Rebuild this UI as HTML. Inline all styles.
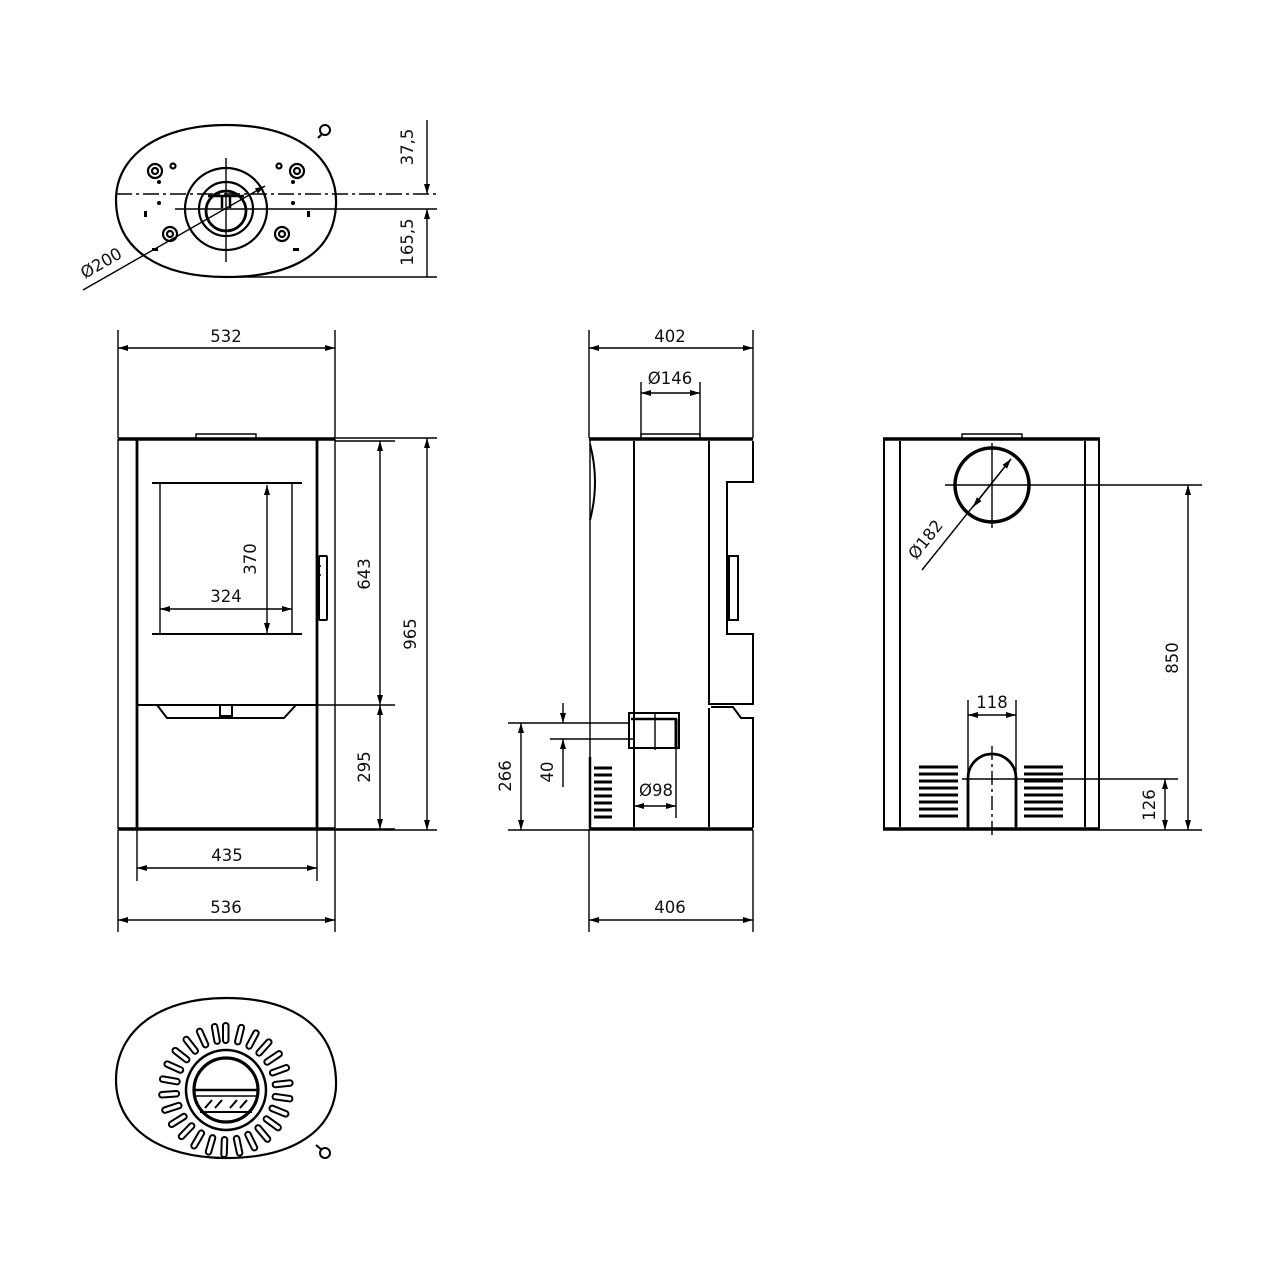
<!DOCTYPE html>
<html><head><meta charset="utf-8"><style>
html,body{margin:0;padding:0;background:#fff}
svg{display:block}
text{font-family:"DejaVu Sans","Liberation Sans",sans-serif;font-size:16.5px;fill:#111}
</style></head><body>
<svg width="1280" height="1280" viewBox="0 0 1280 1280" xmlns="http://www.w3.org/2000/svg">
<defs>
<marker id="a" viewBox="0 0 10 6" refX="10" refY="3" markerWidth="10" markerHeight="6" markerUnits="userSpaceOnUse" orient="auto-start-reverse"><path d="M0,0 L10,3 L0,6z" fill="#000"/></marker>
</defs>
<g stroke="#000" fill="none" stroke-width="1.4">

<!-- TOP VIEW -->
<path d="M226,125 C300,125 338,160 336,205 C334,255 290,277 226,277 C160,277 116,250 116,200 C116,155 160,125 226,125Z" stroke-width="2.2"/>
<path d="M318,138 L322,134" stroke-width="2"/><circle cx="325" cy="130" r="5" stroke-width="2"/>
<circle cx="226" cy="209" r="41" stroke-width="2.2"/>
<circle cx="226" cy="209" r="27" stroke-width="2.2"/>
<circle cx="226" cy="211" r="20" stroke-width="2.8"/>
<path d="M208,196 L244,196 M222,196 L222,208 M230,196 L230,208" stroke-width="2.5"/>
<g stroke-width="2.2"><circle cx="155" cy="171" r="7"/><circle cx="155" cy="171" r="3"/>
<circle cx="297" cy="171" r="7"/><circle cx="297" cy="171" r="3"/>
<circle cx="170" cy="234" r="7"/><circle cx="170" cy="234" r="3"/>
<circle cx="282" cy="234" r="7"/><circle cx="282" cy="234" r="3"/>
<circle cx="173" cy="166" r="2.5"/><circle cx="279" cy="166" r="2.5"/></g>
<g fill="#000" stroke="none"><circle cx="159" cy="182" r="2"/><circle cx="159" cy="203" r="2"/><circle cx="293" cy="182" r="2"/><circle cx="293" cy="203" r="2"/>
<rect x="144" y="211" width="3" height="6"/><rect x="307" y="211" width="3" height="6"/>
<rect x="152" y="248" width="6" height="3"/><rect x="293" y="248" width="6" height="3"/></g>
<path d="M116,194 L437,194" stroke-dasharray="16,4,3,4"/>
<path d="M175,209 L437,209"/>
<path d="M230,277 L437,277"/>
<path d="M226,158 L226,262"/>
<path d="M427,120 L427,194" marker-end="url(#a)"/>
<path d="M427,277 L427,209" marker-end="url(#a)"/>
<path d="M83,290 L265,186" marker-end="url(#a)"/>

<!-- FRONT VIEW -->
<path d="M118,439 L335,439 M118,829 L335,829" stroke-width="3.5"/>
<path d="M118,439 L118,829 M335,439 L335,829"/>
<path d="M137,439 L137,829 M317,439 L317,829" stroke-width="2.8"/>
<path d="M196,439 L196,434 L256,434 L256,439"/>
<path d="M152,483 L302,483 M152,634 L302,634" stroke-width="2"/>
<path d="M160,483 L160,634 M292,483 L292,634"/>
<rect x="319" y="556" width="8" height="64" rx="1" stroke-width="2"/>
<path d="M317,566 L321,566 M317,575 L321,575"/>
<path d="M137,705 L317,705" stroke-width="2"/>
<path d="M157,705 L167,718 L284,718 L296,705" stroke-width="2"/>
<rect x="220" y="705" width="12" height="11" stroke-width="2"/>
<path d="M267,485 L267,633" marker-start="url(#a)" marker-end="url(#a)"/>
<path d="M160,609 L292,609" marker-start="url(#a)" marker-end="url(#a)"/>
<path d="M335,441 L395,441 M317,705 L395,705 M335,829 L395,829 M335,438 L437,438 M335,830 L437,830"/>
<path d="M380,441 L380,705" marker-start="url(#a)" marker-end="url(#a)"/>
<path d="M380,705 L380,829" marker-start="url(#a)" marker-end="url(#a)"/>
<path d="M427,438 L427,830" marker-start="url(#a)" marker-end="url(#a)"/>
<path d="M118,330 L118,438 M335,330 L335,438"/>
<path d="M118,348 L335,348" marker-start="url(#a)" marker-end="url(#a)"/>
<path d="M137,830 L137,881 M317,830 L317,881 M118,830 L118,932 M335,830 L335,932"/>
<path d="M137,868 L317,868" marker-start="url(#a)" marker-end="url(#a)"/>
<path d="M118,920 L335,920" marker-start="url(#a)" marker-end="url(#a)"/>

<!-- SIDE VIEW -->
<path d="M589,439 L753,439 M589,829 L753,829" stroke-width="3.5"/>
<path d="M590,439 L590,829"/>
<path d="M634,441 L634,827 M709,441 L709,705 M709,708 L709,827" stroke-width="2"/>
<path d="M753,441 L753,482 L727,482 L727,634 L753,634 L753,704 L709,704" stroke-width="2"/>
<path d="M711,707 L733,707 L741,718 L753,718 L753,828" stroke-width="2"/>
<path d="M590,444 Q600,482 590,520" stroke-width="2"/>
<rect x="729" y="556" width="9" height="64" stroke-width="2"/>
<rect x="629" y="713" width="50" height="35" stroke-width="2"/>
<path d="M631,719 L677,719" stroke-width="2.5"/><path d="M676,719 L676,747" stroke-width="3"/>
<path d="M641,439 L641,434 L700,434 L700,439"/>
<path d="M589,330 L589,438 M753,330 L753,438 M641,382 L641,436 M700,382 L700,436"/>
<path d="M589,348 L753,348" marker-start="url(#a)" marker-end="url(#a)"/>
<path d="M641,393 L700,393" marker-start="url(#a)" marker-end="url(#a)"/>
<g stroke-width="3"><path d="M594,768 L612,768 M594,775 L612,775 M594,782 L612,782 M594,789 L612,789 M594,796 L612,796 M594,803 L612,803 M594,810 L612,810 M594,817 L612,817"/></g>
<path d="M590,757 L590,828" stroke-width="2.5"/>
<path d="M508,723 L629,723 M550,739 L634,739 M508,830 L589,830"/>
<path d="M521,723 L521,830" marker-start="url(#a)" marker-end="url(#a)"/>
<path d="M563,703 L563,723" marker-end="url(#a)"/>
<path d="M563,787 L563,739" marker-end="url(#a)"/>
<path d="M655,713 L655,750 M676,739 L676,818"/>
<path d="M634,806 L676,806" marker-start="url(#a)" marker-end="url(#a)"/>
<path d="M589,830 L589,932 M753,830 L753,932"/>
<path d="M589,920 L753,920" marker-start="url(#a)" marker-end="url(#a)"/>

<!-- BACK VIEW -->
<path d="M883,439 L1100,439 M883,829 L1100,829" stroke-width="3.5"/>
<path d="M884,439 L884,829 M1099,439 L1099,829 M900,441 L900,827 M1085,441 L1085,827" stroke-width="2"/>
<path d="M962,439 L962,434 L1022,434 L1022,439"/>
<circle cx="992" cy="485" r="37" stroke-width="3.5"/>
<path d="M992,443 L992,528 M945,485 L1202,485"/>
<path d="M922,570 L1011,459" marker-end="url(#a)"/>
<path d="M1011,459 L973,507" marker-end="url(#a)"/>
<path d="M1188,485 L1188,830" marker-start="url(#a)" marker-end="url(#a)"/>
<path d="M1100,830 L1202,830"/>
<path d="M962,779 L1178,779"/>
<path d="M1165,779 L1165,830" marker-start="url(#a)" marker-end="url(#a)"/>
<path d="M968,828 L968,778 A24,24 0 0 1 1016,778 L1016,828" stroke-width="2.8"/>
<path d="M992,746 L992,835" stroke-dasharray="14,4,3,4"/>
<path d="M968,700 L968,776 M1016,700 L1016,776"/>
<path d="M968,715 L1016,715" marker-start="url(#a)" marker-end="url(#a)"/>
<g stroke-width="3"><path d="M919,767 L958,767 M919,774 L958,774 M919,781 L958,781 M919,788 L958,788 M919,795 L958,795 M919,802 L958,802 M919,809 L958,809 M919,816 L958,816 M1024,767 L1063,767 M1024,774 L1063,774 M1024,781 L1063,781 M1024,788 L1063,788 M1024,795 L1063,795 M1024,802 L1063,802 M1024,809 L1063,809 M1024,816 L1063,816"/></g>

<!-- BOTTOM VIEW -->
<path d="M226,1158 C300,1158 338,1125 336,1080 C334,1025 290,998 226,998 C160,998 116,1030 116,1080 C116,1128 160,1158 226,1158Z" stroke-width="2.2"/>
<path d="M316,1145 L322,1150" stroke-width="2"/><circle cx="325" cy="1153" r="5" stroke-width="2"/>
<circle cx="226" cy="1090" r="40" stroke-width="2.5"/>
<circle cx="226" cy="1090" r="32" stroke-width="3.2"/>
<path d="M194,1090 L258,1090" stroke-width="2.5"/><path d="M196,1096 L256,1096"/>
<path d="M200,1112 L252,1112" stroke-width="2"/>
<path d="M205,1108 L212,1100 M215,1108 L222,1100 M230,1108 L237,1100 M240,1108 L247,1100" stroke-width="2"/>
<g stroke-width="2">
<rect x="223" y="1023" width="5.5" height="20" rx="2.7" transform="rotate(0 226 1090)"/>
<rect x="223" y="1023" width="5.5" height="20" rx="2.7" transform="rotate(14 226 1090)"/>
<rect x="223" y="1023" width="5.5" height="20" rx="2.7" transform="rotate(28 226 1090)"/>
<rect x="223" y="1023" width="5.5" height="20" rx="2.7" transform="rotate(42 226 1090)"/>
<rect x="223" y="1023" width="5.5" height="20" rx="2.7" transform="rotate(56 226 1090)"/>
<rect x="223" y="1023" width="5.5" height="20" rx="2.7" transform="rotate(70 226 1090)"/>
<rect x="223" y="1023" width="5.5" height="20" rx="2.7" transform="rotate(84 226 1090)"/>
<rect x="223" y="1023" width="5.5" height="20" rx="2.7" transform="rotate(98 226 1090)"/>
<rect x="223" y="1023" width="5.5" height="20" rx="2.7" transform="rotate(112 226 1090)"/>
<rect x="223" y="1023" width="5.5" height="20" rx="2.7" transform="rotate(126 226 1090)"/>
<rect x="223" y="1023" width="5.5" height="20" rx="2.7" transform="rotate(140 226 1090)"/>
<rect x="223" y="1023" width="5.5" height="20" rx="2.7" transform="rotate(154 226 1090)"/>
<rect x="223" y="1023" width="5.5" height="20" rx="2.7" transform="rotate(168 226 1090)"/>
<rect x="223" y="1023" width="5.5" height="20" rx="2.7" transform="rotate(182 226 1090)"/>
<rect x="223" y="1023" width="5.5" height="20" rx="2.7" transform="rotate(196 226 1090)"/>
<rect x="223" y="1023" width="5.5" height="20" rx="2.7" transform="rotate(210 226 1090)"/>
<rect x="223" y="1023" width="5.5" height="20" rx="2.7" transform="rotate(224 226 1090)"/>
<rect x="223" y="1023" width="5.5" height="20" rx="2.7" transform="rotate(238 226 1090)"/>
<rect x="223" y="1023" width="5.5" height="20" rx="2.7" transform="rotate(252 226 1090)"/>
<rect x="223" y="1023" width="5.5" height="20" rx="2.7" transform="rotate(266 226 1090)"/>
<rect x="223" y="1023" width="5.5" height="20" rx="2.7" transform="rotate(280 226 1090)"/>
<rect x="223" y="1023" width="5.5" height="20" rx="2.7" transform="rotate(294 226 1090)"/>
<rect x="223" y="1023" width="5.5" height="20" rx="2.7" transform="rotate(308 226 1090)"/>
<rect x="223" y="1023" width="5.5" height="20" rx="2.7" transform="rotate(322 226 1090)"/>
<rect x="223" y="1023" width="5.5" height="20" rx="2.7" transform="rotate(336 226 1090)"/>
<rect x="223" y="1023" width="5.5" height="20" rx="2.7" transform="rotate(350 226 1090)"/>
</g>
</g>

<!-- LABELS -->
<text x="413" y="147" text-anchor="middle" transform="rotate(-90 413 147)">37,5</text>
<text x="413" y="242" text-anchor="middle" transform="rotate(-90 413 242)">165,5</text>
<text x="104" y="268" text-anchor="middle" transform="rotate(-30 104 268)">Ø200</text>
<text x="226" y="342" text-anchor="middle">532</text>
<text x="256" y="559" text-anchor="middle" transform="rotate(-90 256 559)">370</text>
<text x="226" y="602" text-anchor="middle">324</text>
<text x="370" y="574" text-anchor="middle" transform="rotate(-90 370 574)">643</text>
<text x="370" y="767" text-anchor="middle" transform="rotate(-90 370 767)">295</text>
<text x="416" y="634" text-anchor="middle" transform="rotate(-90 416 634)">965</text>
<text x="227" y="861" text-anchor="middle">435</text>
<text x="226" y="913" text-anchor="middle">536</text>
<text x="670" y="342" text-anchor="middle">402</text>
<text x="670" y="384" text-anchor="middle">Ø146</text>
<text x="511" y="776" text-anchor="middle" transform="rotate(-90 511 776)">266</text>
<text x="553" y="772" text-anchor="middle" transform="rotate(-90 553 772)">40</text>
<text x="656" y="796" text-anchor="middle">Ø98</text>
<text x="670" y="913" text-anchor="middle">406</text>
<text x="930" y="543" text-anchor="middle" transform="rotate(-52 930 543)">Ø182</text>
<text x="992" y="708" text-anchor="middle">118</text>
<text x="1178" y="658" text-anchor="middle" transform="rotate(-90 1178 658)">850</text>
<text x="1155" y="805" text-anchor="middle" transform="rotate(-90 1155 805)">126</text>
</svg>
</body></html>
